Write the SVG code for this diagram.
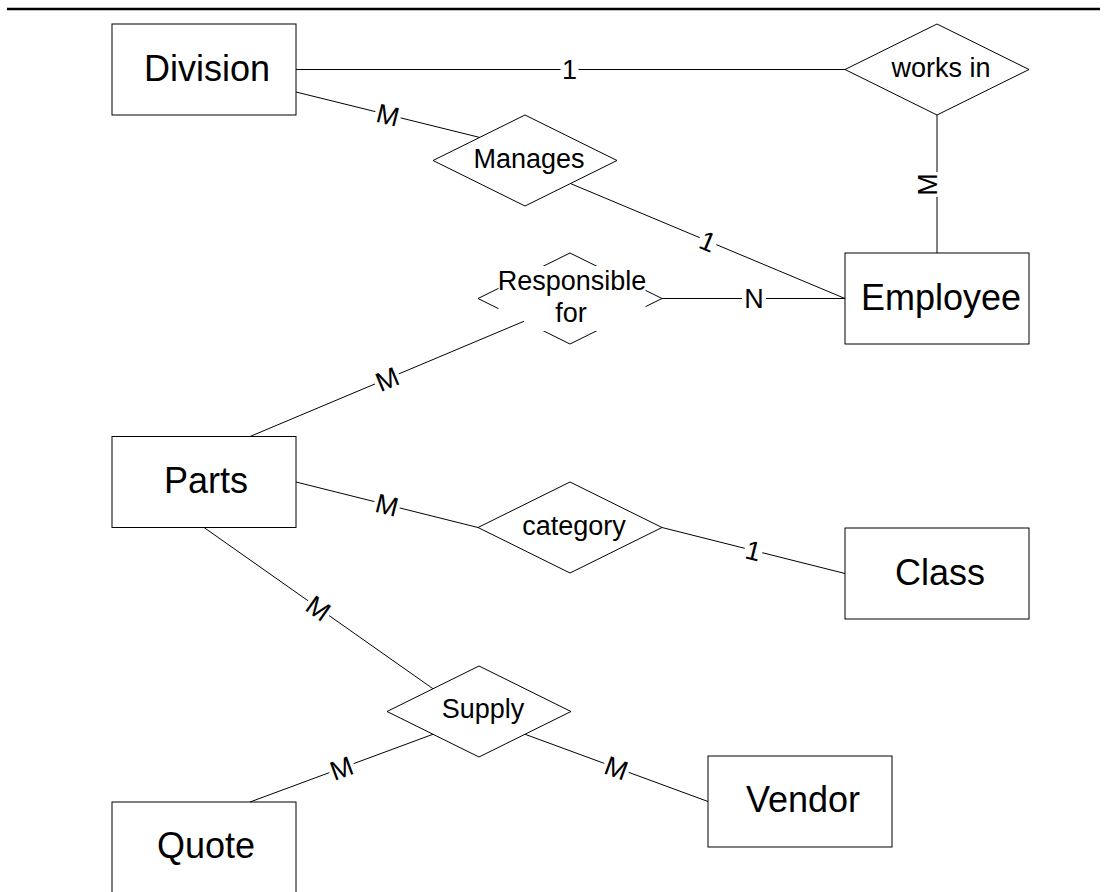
<svg xmlns="http://www.w3.org/2000/svg" width="1118" height="892" viewBox="0 0 1118 892">
<style>
.ent{fill:#fff;stroke:#000;stroke-width:1}
.rel{fill:#fff;stroke:#000;stroke-width:1}
.en{font-family:"Liberation Sans",Arial,Helvetica,sans-serif;font-size:36px;fill:#000;text-anchor:middle}
.rn{font-family:"Liberation Sans",Arial,Helvetica,sans-serif;font-size:27px;fill:#000;text-anchor:middle}
.lb{font-family:"Liberation Sans",Arial,Helvetica,sans-serif;font-size:27px;fill:#000;text-anchor:middle}
.conn line{stroke:#000;stroke-width:1}
.bg{fill:#fff;stroke:none}
</style>
<rect x="0" y="0" width="1118" height="892" fill="#fff"/>
<line x1="7" y1="9" x2="1100" y2="9" stroke="#000" stroke-width="2.5"/>
<g id="division"><rect class="ent" x="112" y="24" width="184" height="91"/><text class="en" x="207" y="81">Division</text></g>
<g id="employee"><rect class="ent" x="845" y="253" width="184" height="91"/><text class="en" x="941" y="310">Employee</text></g>
<g id="parts"><rect class="ent" x="112" y="436.5" width="184" height="91"/><text class="en" x="206" y="493">Parts</text></g>
<g id="class"><rect class="ent" x="845" y="528" width="184" height="91"/><text class="en" x="940" y="585">Class</text></g>
<g id="quote"><rect class="ent" x="112" y="802" width="184" height="91"/><text class="en" x="206" y="858">Quote</text></g>
<g id="vendor"><rect class="ent" x="708" y="756" width="184" height="91"/><text class="en" x="803" y="812">Vendor</text></g>
<g id="works-in"><polygon class="rel" points="845,69.5 937,24 1029,69.5 937,115"/><text class="rn" x="941" y="77">works in</text></g>
<g id="manages"><polygon class="rel" points="433,160.5 525,115 617,160.5 525,206"/><text class="rn" x="529" y="168">Manages</text></g>
<g id="responsible-for"><polygon class="rel" points="478,298.5 570,253 662,298.5 570,344"/><rect class="bg" x="498.5" y="266" width="147" height="65"/><text class="rn" x="572" y="290">Responsible</text><text class="rn" x="571" y="322">for</text></g>
<g id="category"><polygon class="rel" points="478,527.5 570,482 662,527.5 570,573"/><text class="rn" x="574" y="535">category</text></g>
<g id="supply"><polygon class="rel" points="387,711.5 479,666 571,711.5 479,757"/><text class="rn" x="483" y="718">Supply</text></g>
<g id="connectors" class="conn">
  <line x1="296" y1="69.5" x2="845" y2="69.5"/>
  <line x1="296" y1="92" x2="480" y2="137.5"/>
  <line x1="571" y1="183.75" x2="845" y2="298.5"/>
  <line x1="937" y1="115" x2="937" y2="253"/>
  <line x1="662" y1="298.5" x2="845" y2="298.5"/>
  <line x1="250" y1="436.5" x2="524" y2="321.25"/>
  <line x1="296" y1="482" x2="478" y2="527.5"/>
  <line x1="662" y1="527.5" x2="845" y2="573.5"/>
  <line x1="204" y1="527.5" x2="433" y2="688.75"/>
  <line x1="250" y1="802" x2="433" y2="734.25"/>
  <line x1="525" y1="734.25" x2="708" y2="801.5"/>
  <g transform="translate(569.5,69.5)"><rect class="bg" x="-9" y="-12" width="18" height="24"/><text class="lb" y="9.7">1</text></g>
  <g transform="translate(388,114.75) rotate(13.9)"><rect class="bg" x="-13" y="-12" width="26" height="24"/><text class="lb" y="9.7">M</text></g>
  <g transform="translate(708,241.1) rotate(22.7)"><rect class="bg" x="-9" y="-12" width="18" height="24"/><text class="lb" y="9.7">1</text></g>
  <g transform="translate(937,184.5) rotate(-90)"><rect class="bg" x="-12.5" y="-12" width="25" height="24"/><text class="lb" y="-0.5">M</text></g>
  <g transform="translate(754,298.5)"><rect class="bg" x="-12" y="-12" width="24" height="24"/><text class="lb" y="9.7">N</text></g>
  <g transform="translate(387,378.9) rotate(-22.8)"><rect class="bg" x="-13" y="-12" width="26" height="24"/><text class="lb" y="9.7">M</text></g>
  <g transform="translate(387,504.75) rotate(14)"><rect class="bg" x="-13" y="-12" width="26" height="24"/><text class="lb" y="9.7">M</text></g>
  <g transform="translate(753.5,550.5) rotate(14.1)"><rect class="bg" x="-9" y="-12" width="18" height="24"/><text class="lb" y="9.7">1</text></g>
  <g transform="translate(318.5,608.1) rotate(35.2)"><rect class="bg" x="-13" y="-12" width="26" height="24"/><text class="lb" y="9.7">M</text></g>
  <g transform="translate(341.5,768.1) rotate(-20.3)"><rect class="bg" x="-13" y="-12" width="26" height="24"/><text class="lb" y="9.7">M</text></g>
  <g transform="translate(616.5,767.9) rotate(20.2)"><rect class="bg" x="-13" y="-12" width="26" height="24"/><text class="lb" y="9.7">M</text></g>
</g>
</svg>
